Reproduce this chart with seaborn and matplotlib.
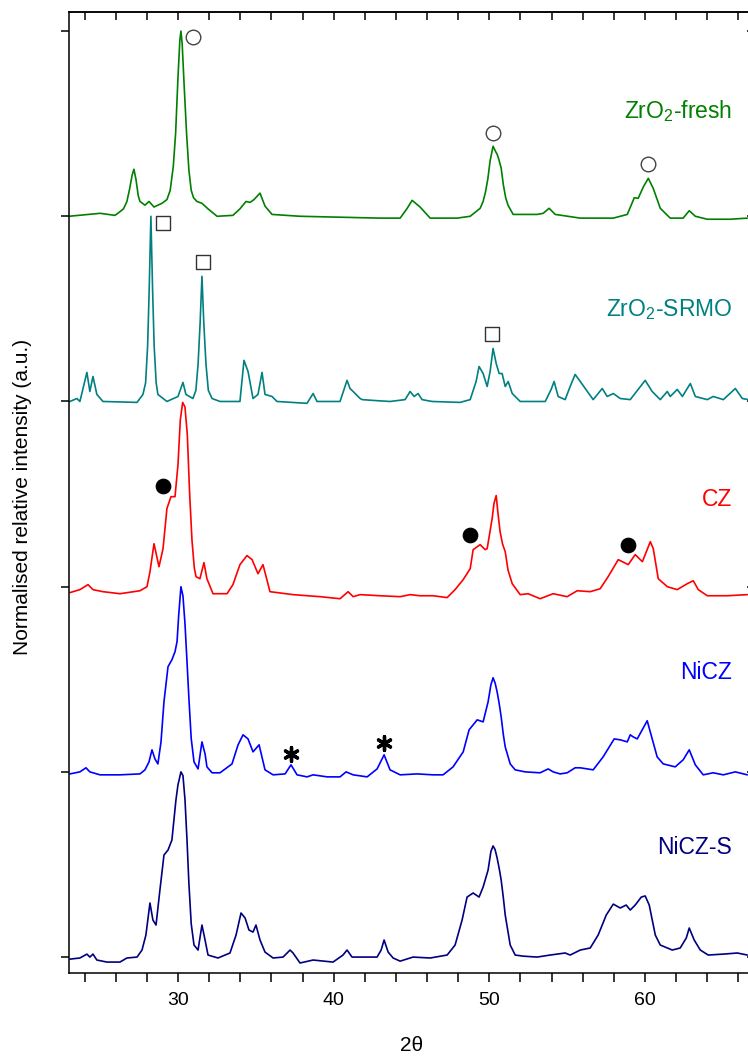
import numpy as np
import pandas as pd
import seaborn as sns
import matplotlib.pyplot as plt
from matplotlib.ticker import MultipleLocator, NullFormatter

# XRD patterns: 2theta and normalised intensity (0..1)
fresh_2t = [23.0, 25.0, 25.95, 26.14, 26.5, 26.72, 26.9, 27.05, 27.17, 27.3, 27.45, 27.56, 27.88,
            28.14, 28.46, 28.97, 29.29, 29.5, 29.7, 29.85, 30.0, 30.12, 30.19, 30.27, 30.4, 30.55,
            30.7, 30.85, 31.0, 31.22, 31.54, 31.93, 32.51, 33.53, 33.98, 34.37, 34.63, 34.88, 35.27,
            35.59, 36.04, 37.84, 40.41, 42.98, 44.27, 44.7, 45.04, 45.55, 46.20, 47.93, 48.77, 49.41,
            49.6, 49.75, 49.9, 50.05, 50.24, 50.4, 50.5, 50.6, 50.76, 50.9, 51.05, 51.2, 51.53,
            53.07, 53.46, 53.84, 54.23, 55.84, 57.96, 58.86, 59.31, 59.56, 59.9, 60.21, 60.53, 60.98,
            61.62, 62.45, 62.84, 63.23, 64.0, 65.48, 66.57]
fresh_int = [0.0, 0.016, 0.005, 0.016, 0.04, 0.08, 0.15, 0.22, 0.254, 0.2, 0.11, 0.08, 0.06,
             0.08, 0.05, 0.07, 0.09, 0.14, 0.27, 0.45, 0.75, 0.95, 1.0, 0.93, 0.7, 0.45,
             0.25, 0.14, 0.1, 0.08, 0.07, 0.04, 0.0, 0.005, 0.04, 0.08, 0.075, 0.09, 0.125,
             0.055, 0.01, 0.0, -0.005, -0.01, -0.01, 0.04, 0.086, 0.05, -0.01, -0.01, 0.0, 0.043,
             0.08, 0.13, 0.2, 0.3, 0.378, 0.35, 0.335, 0.31, 0.26, 0.17, 0.1, 0.06, 0.01,
             0.01, 0.016, 0.043, 0.01, -0.01, -0.01, 0.01, 0.10, 0.097, 0.16, 0.205, 0.15, 0.043,
             -0.01, -0.01, 0.03, 0.0, -0.016, -0.016, -0.01]

srmo_2t = [23.06, 23.51, 23.70, 24.15, 24.34, 24.54, 24.79, 25.18, 27.37, 27.75, 27.92, 28.05, 28.15,
           28.26, 28.37, 28.47, 28.6, 28.71, 29.29, 30.0, 30.32, 30.51, 30.96, 31.15, 31.29, 31.42,
           31.54, 31.66, 31.8, 31.95, 32.19, 32.70, 33.98, 34.24, 34.50, 34.82, 35.14, 35.40, 35.59,
           36.04, 36.36, 38.29, 38.68, 38.93, 40.41, 40.86, 41.05, 41.25, 41.70, 41.83, 42.66, 43.62,
           44.59, 44.91, 45.17, 45.42, 45.68, 46.32, 48.12, 48.77, 49.15, 49.34, 49.60, 49.86, 50.05,
           50.24, 50.44, 50.63, 50.82, 51.02, 51.21, 51.47, 51.98, 53.59, 53.97, 54.16, 54.42, 54.87,
           55.19, 55.51, 55.84, 56.16, 56.67, 57.25, 57.57, 57.96, 58.41, 59.05, 60.01, 60.46, 60.98,
           61.43, 61.62, 62.07, 62.40, 62.91, 63.23, 64.0, 64.38, 65.03, 65.80, 66.25, 66.63]
srmo_int = [0.0, 0.016, 0.0, 0.157, 0.054, 0.135, 0.038, 0.0, -0.005, 0.038, 0.1, 0.3, 0.6,
            1.0, 0.6, 0.3, 0.1, 0.038, 0.0, 0.027, 0.103, 0.038, 0.016, 0.06, 0.2, 0.42,
            0.676, 0.42, 0.2, 0.06, 0.016, 0.0, 0.0, 0.222, 0.162, 0.016, 0.038, 0.157, 0.038,
            0.027, 0.0, -0.01, 0.043, 0.0, 0.0, 0.114, 0.07, 0.054, 0.016, 0.01, 0.005, 0.0,
            0.01, 0.054, 0.027, 0.043, 0.01, 0.0, -0.005, 0.01, 0.108, 0.189, 0.151, 0.081, 0.162,
            0.286, 0.205, 0.151, 0.151, 0.081, 0.108, 0.043, 0.0, 0.0, 0.065, 0.108, 0.027, 0.01,
            0.081, 0.146, 0.108, 0.07, 0.01, 0.07, 0.027, 0.043, 0.016, 0.01, 0.114, 0.054, 0.01,
            0.054, 0.027, 0.065, 0.027, 0.097, 0.027, 0.01, 0.027, 0.01, 0.07, 0.016, 0.01]

cz_2t = [23.06, 23.70, 24.22, 24.54, 25.18, 26.27, 27.56, 28.01, 28.2, 28.46, 28.78, 29.04, 29.29,
         29.55, 29.81, 30.0, 30.15, 30.3, 30.45, 30.6, 30.75, 30.9, 31.05, 31.16, 31.41, 31.67,
         31.86, 32.25, 33.15, 33.53, 33.98, 34.43, 34.76, 35.14, 35.46, 35.91, 37.39, 39.13, 40.41,
         40.93, 41.25, 41.70, 42.98, 44.27, 44.91, 45.55, 46.39, 47.29, 47.80, 48.32, 48.77, 48.96,
         49.41, 49.73, 49.86, 50.18, 50.3, 50.44, 50.55, 50.69, 50.85, 51.02, 51.2, 51.47, 51.98,
         52.49, 53.26, 54.10, 55.0, 55.64, 56.48, 57.12, 57.63, 58.28, 58.92, 59.37, 59.83, 60.34,
         60.53, 60.85, 61.43, 62.07, 62.71, 63.10, 63.42, 64.0, 65.28, 66.57]
cz_int = [-0.032, -0.016, 0.011, -0.016, -0.027, -0.038, -0.022, 0.0, 0.08, 0.232, 0.108, 0.205, 0.422,
          0.486, 0.486, 0.659, 0.9, 0.995, 0.97, 0.82, 0.5, 0.25, 0.1, 0.054, 0.043, 0.13,
          0.043, -0.038, -0.038, 0.011, 0.119, 0.168, 0.146, 0.07, 0.119, -0.027, -0.043, -0.054, -0.065,
          -0.027, -0.054, -0.043, -0.049, -0.054, -0.043, -0.049, -0.049, -0.059, -0.016, 0.038, 0.097, 0.2,
          0.227, 0.2, 0.205, 0.368, 0.45, 0.492, 0.4, 0.297, 0.23, 0.189, 0.09, 0.016, -0.043,
          -0.038, -0.065, -0.038, -0.054, -0.022, -0.027, -0.011, 0.054, 0.146, 0.119, 0.173, 0.135, 0.243,
          0.205, 0.043, 0.0, -0.016, 0.016, 0.032, -0.016, -0.049, -0.049, -0.043]

nicz_2t = [23.06, 23.70, 24.09, 24.34, 24.99, 26.27, 27.56, 27.88, 28.14, 28.33, 28.52, 28.71, 28.91,
           29.10, 29.36, 29.61, 29.81, 29.94, 30.05, 30.19, 30.32, 30.45, 30.58, 30.7, 30.85, 31.03,
           31.29, 31.54, 31.74, 31.86, 32.19, 32.70, 33.47, 33.86, 34.18, 34.50, 34.82, 35.21, 35.59,
           36.11, 36.88, 37.26, 37.65, 38.29, 38.68, 39.58, 40.41, 40.80, 41.25, 42.15, 42.79, 43.24,
           43.62, 44.27, 45.36, 46.39, 47.03, 47.67, 48.32, 48.70, 49.22, 49.60, 49.92, 50.1, 50.24,
           50.37, 50.5, 50.63, 50.76, 50.9, 51.02, 51.34, 51.66, 52.30, 53.26, 53.78, 54.10, 54.55,
           55.0, 55.51, 55.84, 56.67, 57.31, 58.02, 58.41, 58.86, 59.05, 59.24, 59.50, 60.14, 60.78,
           61.17, 61.94, 62.45, 62.84, 63.23, 63.74, 64.38, 65.03, 65.80, 66.57]
nicz_int = [-0.011, 0.0, 0.022, 0.0, -0.016, -0.016, -0.011, 0.011, 0.054, 0.119, 0.07, 0.043, 0.162,
            0.378, 0.568, 0.605, 0.649, 0.703, 0.85, 1.0, 0.95, 0.8, 0.595, 0.4, 0.18, 0.054,
            0.016, 0.162, 0.097, 0.027, -0.005, -0.005, 0.043, 0.146, 0.2, 0.178, 0.108, 0.146, 0.011,
            -0.016, -0.011, 0.038, -0.016, -0.027, -0.016, -0.027, -0.027, 0.0, -0.016, -0.027, 0.016, 0.092,
            0.011, -0.016, -0.011, -0.016, -0.016, 0.027, 0.108, 0.227, 0.281, 0.27, 0.378, 0.47, 0.508,
            0.48, 0.432, 0.37, 0.297, 0.2, 0.135, 0.043, 0.011, 0.0, -0.005, 0.016, 0.0, -0.011,
            -0.005, 0.022, 0.022, 0.011, 0.081, 0.178, 0.173, 0.162, 0.2, 0.189, 0.178, 0.276, 0.081,
            0.043, 0.027, 0.065, 0.119, 0.038, -0.016, -0.005, -0.016, 0.0, -0.016]

niczs_2t = [23.06, 23.70, 24.15, 24.34, 24.54, 24.79, 25.44, 26.27, 26.72, 27.37, 27.69, 27.94, 28.20,
            28.39, 28.59, 28.84, 29.10, 29.36, 29.61, 29.87, 30.0, 30.19, 30.32, 30.45, 30.58, 30.7,
            30.85, 31.03, 31.29, 31.54, 31.74, 31.93, 32.57, 33.34, 33.73, 34.05, 34.31, 34.56, 34.82,
            35.01, 35.27, 35.59, 36.11, 36.75, 37.20, 37.39, 37.84, 38.68, 39.96, 40.60, 40.86, 41.18,
            41.50, 42.79, 43.05, 43.24, 43.50, 43.82, 44.27, 45.10, 46.20, 47.29, 47.80, 48.25, 48.57,
            48.96, 49.34, 49.60, 49.92, 50.1, 50.24, 50.37, 50.5, 50.63, 50.76, 50.9, 51.02, 51.34,
            51.66, 52.17, 53.07, 53.91, 54.87, 55.19, 55.84, 56.48, 56.99, 57.51, 57.96, 58.41, 58.79,
            59.05, 59.37, 59.76, 60.01, 60.27, 60.66, 60.98, 61.75, 62.26, 62.65, 62.84, 63.16, 63.55,
            64.06, 65.03, 65.93, 66.57]
niczs_int = [-0.011, -0.005, 0.016, 0.0, 0.016, -0.016, -0.027, -0.027, -0.005, 0.0, 0.038, 0.119, 0.292,
             0.2, 0.173, 0.362, 0.551, 0.578, 0.632, 0.849, 0.93, 1.0, 0.98, 0.85, 0.632, 0.4,
             0.18, 0.065, 0.038, 0.173, 0.092, 0.011, -0.005, 0.022, 0.119, 0.238, 0.211, 0.146, 0.135,
             0.173, 0.092, 0.027, -0.005, 0.0, 0.038, 0.022, -0.032, -0.016, -0.027, 0.011, 0.038, 0.0,
             0.0, 0.0, 0.038, 0.092, 0.027, -0.005, -0.022, 0.0, -0.005, 0.011, 0.065, 0.2, 0.324,
             0.346, 0.324, 0.378, 0.47, 0.57, 0.6, 0.58, 0.535, 0.48, 0.416, 0.32, 0.227, 0.065,
             0.011, 0.005, 0.0, 0.011, 0.022, 0.011, 0.038, 0.049, 0.119, 0.227, 0.286, 0.265, 0.281,
             0.254, 0.281, 0.324, 0.33, 0.281, 0.119, 0.065, 0.038, 0.049, 0.103, 0.157, 0.092, 0.038,
             0.011, 0.016, 0.022, 0.011]

names = ['NiCZ-S', 'NiCZ', 'CZ', 'ZrO$_2$-SRMO', 'ZrO$_2$-fresh']
colors = ['#000080', '#0000ff', '#ff0000', '#008080', '#008000']
offsets = [0, 1, 2, 3, 4]
label_y = [0.557, 1.503, 2.438, 3.46, 4.53]

# phase markers (2theta, stacked intensity)
circ_x, circ_y = [30.96, 50.24, 60.21], [4.97, 4.449, 4.28]
sq_x, sq_y = [29.04, 31.61, 50.18], [3.962, 3.751, 3.362]
dot_x, dot_y = [29.04, 48.77, 58.92], [2.541, 2.281, 2.227]
star_x, star_y = [37.26, 43.24], [1.097, 1.157]

sns.set_theme(style='ticks')
plt.rcParams['font.family'] = ['Liberation Sans', 'DejaVu Sans']
plt.rcParams['mathtext.default'] = 'regular'
for key in ['text.color', 'axes.labelcolor', 'xtick.color', 'ytick.color', 'axes.edgecolor']:
    plt.rcParams[key] = 'black'

fig = plt.figure(figsize=(7.48, 10.57), dpi=100)
ax = fig.add_axes([69 / 748, 84 / 1057, 685 / 748, 961 / 1057])

patterns = [(niczs_2t, niczs_int), (nicz_2t, nicz_int), (cz_2t, cz_int),
            (srmo_2t, srmo_int), (fresh_2t, fresh_int)]
for (tt, inten), name, c, off, ly in zip(patterns, names, colors, offsets, label_y):
    df = pd.DataFrame({'2t': tt, 'I': np.array(inten) + off})
    sns.lineplot(data=df, x='2t', y='I', ax=ax, color=c, lw=1.2, sort=False, estimator=None)
    ax.text(65.6, ly, name, color=c, fontsize=16.5, ha='right', va='baseline')

sns.scatterplot(x=circ_x, y=circ_y, ax=ax, marker='o', s=110, facecolor='white',
                edgecolor='#444444', linewidth=1.0, zorder=5)
sns.scatterplot(x=sq_x, y=sq_y, ax=ax, marker='s', s=110, facecolor='white',
                edgecolor='#333333', linewidth=1.0, zorder=5)
sns.scatterplot(x=dot_x, y=dot_y, ax=ax, marker='o', s=110, color='black',
                edgecolor='black', zorder=5)
sns.scatterplot(x=star_x, y=star_y, ax=ax, marker=(6, 2, 0), s=100, color='black',
                edgecolor='black', linewidth=2.4, zorder=5)

ax.set_xlim(23, 67)
ax.set_ylim(-0.086, 5.103)
ax.xaxis.set_major_locator(MultipleLocator(10))
ax.xaxis.set_minor_locator(MultipleLocator(2))
ax.yaxis.set_major_locator(MultipleLocator(1))
ax.yaxis.set_major_formatter(NullFormatter())
ax.tick_params(axis='x', which='both', direction='out', length=6.5, width=1.1,
               labelsize=14, pad=7, top=False, colors='black')
ax.tick_params(axis='y', which='both', direction='out', length=5.5, width=1.1, right=False)

# inward ticks on the top and right frame
top = ax.secondary_xaxis('top')
top.xaxis.set_major_locator(MultipleLocator(2))
top.tick_params(direction='in', length=6, width=1.1, labeltop=False)
right = ax.secondary_yaxis('right')
right.yaxis.set_major_locator(MultipleLocator(1))
right.tick_params(direction='in', length=5, width=1.1, labelright=False)

for a in (ax, top, right):
    for s in a.spines.values():
        s.set_linewidth(1.1)
        s.set_color('black')

ax.set_xlabel('2θ', fontsize=15)
ax.xaxis.set_label_coords(0.5, -0.075)
ax.xaxis.label.set_va('center')
ax.set_ylabel('Normalised relative intensity (a.u.)', fontsize=15)
ax.yaxis.set_label_coords(-0.0686, 0.495)
ax.yaxis.label.set_va('center')

fig.savefig('out.png', dpi=100)
